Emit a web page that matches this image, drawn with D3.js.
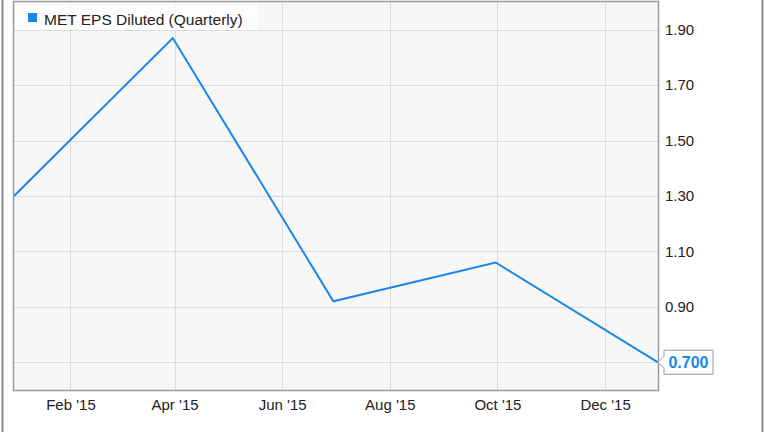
<!DOCTYPE html>
<html>
<head>
<meta charset="utf-8">
<script src="https://cdn.jsdelivr.net/npm/d3@7"></script>
<style>
  html, body { margin: 0; padding: 0; background: #fff; }
  svg { display: block; font-family: "Liberation Sans", Arial, sans-serif; }
</style>
</head>
<body>
<svg id="chart" width="764" height="432"></svg>
<script>
const seriesName = "MET EPS Diluted (Quarterly)";
const dates = ["2014-12-31", "2015-03-31", "2015-06-30", "2015-09-30", "2015-12-31"];
const values = [1.30, 1.87, 0.92, 1.06, 0.70];
const yTicks = [0.70, 0.90, 1.10, 1.30, 1.50, 1.70, 1.90];
const xTickDates = ["2015-02-01", "2015-04-01", "2015-06-01", "2015-08-01", "2015-10-01", "2015-12-01"];
const xTickLabels = ["Feb '15", "Apr '15", "Jun '15", "Aug '15", "Oct '15", "Dec '15"];
const lastLabel = "0.700";

(function () {
const parse = d3.utcParse("%Y-%m-%d");
const data = dates.map((d, i) => ({ date: parse(d), value: values[i] }));

const svg = d3.select("#chart");
const pLeft = 14, pRight = 658, pTop = 2, pBottom = 390;
const color = "#1a87e8";
const font = "Liberation Sans, Arial, sans-serif";

const x = d3.scaleUtc().domain([parse("2014-12-31"), parse("2015-12-31")]).range([pLeft, pRight]);
const y = d3.scaleLinear().domain([0.6, 2.0]).range([pBottom, pTop]);

// outer frame lines
svg.append("line").attr("x1", 2.5).attr("x2", 2.5).attr("y1", 0).attr("y2", 432)
  .attr("stroke", "#8a8a8a").attr("stroke-width", 2);
svg.append("line").attr("x1", 762.5).attr("x2", 762.5).attr("y1", 0).attr("y2", 432)
  .attr("stroke", "#8a8a8a").attr("stroke-width", 2);

// plot background
svg.append("rect").attr("x", pLeft).attr("y", pTop).attr("width", pRight - pLeft).attr("height", pBottom - pTop)
  .attr("fill", "#f7f7f7");

// grid
const g = svg.append("g");
g.selectAll("line.h").data(yTicks).join("line")
  .attr("x1", pLeft).attr("x2", pRight)
  .attr("y1", d => Math.round(y(d)) + 0.5).attr("y2", d => Math.round(y(d)) + 0.5)
  .attr("stroke", "#dcdcdc").attr("stroke-width", 1);
g.selectAll("line.v").data(xTickDates.map(parse)).join("line")
  .attr("y1", pTop).attr("y2", pBottom)
  .attr("x1", d => Math.round(x(d)) + 0.5).attr("x2", d => Math.round(x(d)) + 0.5)
  .attr("stroke", "#dcdcdc").attr("stroke-width", 1);

// legend
svg.append("rect").attr("x", pLeft + 1).attr("y", pTop + 1).attr("width", 243).attr("height", 27)
  .attr("fill", "rgba(255,255,255,0.75)");
svg.append("rect").attr("x", 28).attr("y", 13).attr("width", 9).attr("height", 9).attr("fill", color);
svg.append("text").attr("x", 44).attr("y", 24.5).attr("font-size", 15.5).attr("fill", "#222")
  .attr("font-family", font).text(seriesName);

// line
const line = d3.line().x(d => x(d.date)).y(d => y(d.value));
svg.append("path").datum(data).attr("d", line).attr("fill", "none")
  .attr("stroke", color).attr("stroke-width", 2).attr("stroke-linejoin", "miter");

// plot border
svg.append("rect").attr("x", pLeft - 0.5).attr("y", pTop - 0.5).attr("width", pRight - pLeft + 1).attr("height", pBottom - pTop + 1)
  .attr("fill", "none").attr("stroke", "#9a9a9a").attr("stroke-width", 1.5);

// y axis labels (right)
const yAxis = d3.axisRight(y).tickValues(yTicks.filter(v => v > 0.8)).tickSize(0).tickPadding(7)
  .tickFormat(d3.format(".2f"));
const ya = svg.append("g").attr("transform", `translate(${pRight},0)`).call(yAxis);
ya.select(".domain").remove();
ya.selectAll("text").attr("font-size", 15).attr("fill", "#222").attr("font-family", font);

// x axis labels
const xAxis = d3.axisBottom(x).tickValues(xTickDates.map(parse)).tickSize(0).tickPadding(9)
  .tickFormat((d, i) => xTickLabels[i]);
const xa = svg.append("g").attr("transform", `translate(0,${pBottom})`).call(xAxis);
xa.select(".domain").remove();
xa.selectAll("text").attr("font-size", 15).attr("fill", "#222").attr("font-family", font);

// last value flag
const last = data[data.length - 1];
const px = x(last.date), py = y(last.value);
const bx = px + 6, bw = 49, bh = 24;
const flag = `M${px},${py} L${bx},${py - 6} L${bx},${py - bh / 2} L${bx + bw},${py - bh / 2} L${bx + bw},${py + bh / 2} L${bx},${py + bh / 2} L${bx},${py + 6} Z`;
svg.append("path").attr("d", flag).attr("fill", "#fff").attr("stroke", "#999").attr("stroke-width", 1);
svg.append("text").attr("x", bx + bw / 2).attr("y", py + 6).attr("text-anchor", "middle")
  .attr("font-size", 16).attr("font-weight", "bold").attr("fill", color).attr("font-family", font).text(lastLabel);
})();
</script>
</body>
</html>
